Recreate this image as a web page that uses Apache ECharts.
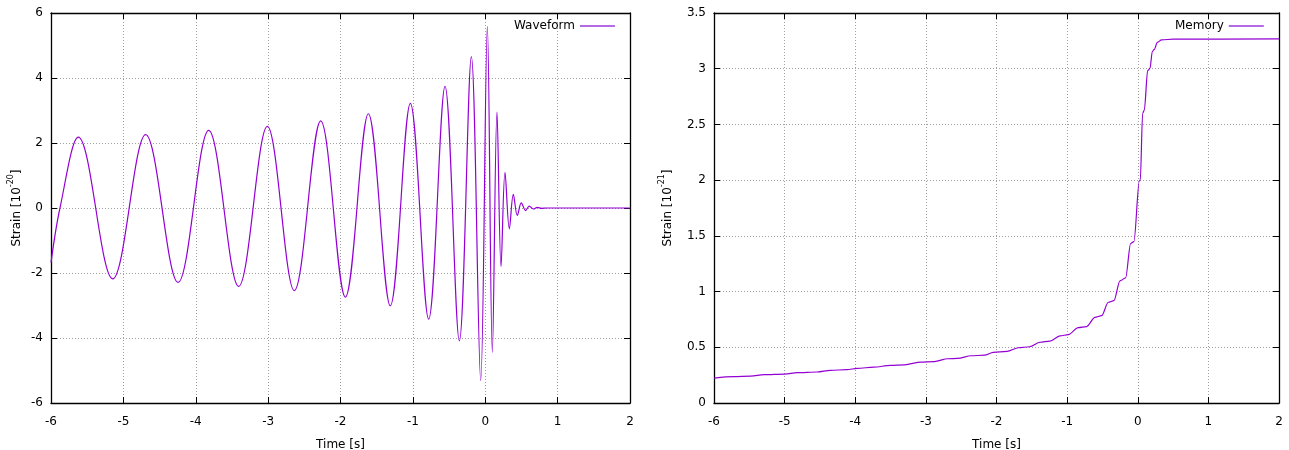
<!DOCTYPE html>
<html>
<head>
<meta charset="utf-8">
<script src="https://cdn.jsdelivr.net/npm/echarts@6/dist/echarts.min.js"></script>
<style>
  html, body { margin: 0; padding: 0; background: #fff; }
  #chart { width: 1289px; height: 450px; }
</style>
</head>
<body>
<div id="chart"></div>
<script>
// Gravitational-wave strain: start of the trace, then successive extrema
var waveTime = [
  -6.0, -5.876, -5.623, -5.148, -4.692, -4.245, -3.821, -3.407, -3.011, -2.638,
  -2.274, -1.933, -1.615, -1.312, -1.035, -0.782, -0.556, -0.358, -0.192, -0.063,
  0.029, 0.098, 0.162, 0.218, 0.273, 0.333, 0.388, 0.443, 0.498, 0.558,
  0.608, 0.664, 0.720, 0.780, 0.850, 2.0
];
var waveStrain = [
  -1.68, 0, 2.18, -2.18, 2.26, -2.29, 2.39, -2.41, 2.51, -2.54,
  2.68, -2.74, 2.90, -3.01, 3.22, -3.42, 3.74, -4.09, 4.66, -5.31,
  5.59, -4.44, 2.95, -1.80, 1.10, -0.64, 0.42, -0.23, 0.16, -0.08,
  0.06, -0.03, 0.02, -0.01, 0, 0
];

// Nonlinear memory: slowly stepping growth, jump at merger, then saturation
var memTime = [
  -6.0, -5.72, -5.48, -5.29, -5.0, -4.82, -4.54, -4.35, -4.12, -3.97,
  -3.74, -3.5, -3.30, -3.07, -2.88, -2.69, -2.55, -2.36, -2.17, -2.045,
  -1.85, -1.69, -1.53, -1.384, -1.243, -1.101, -0.983, -0.842, -0.724, -0.606,
  -0.511, -0.417, -0.337, -0.252, -0.172, -0.101, -0.054, 0.022, 0.036, 0.069,
  0.093, 0.14, 0.173, 0.206, 0.234, 0.277, 0.338, 0.503, 2.0
];
var memStrain = [
  0.224, 0.236, 0.242, 0.254, 0.260, 0.272, 0.278, 0.293, 0.299, 0.311,
  0.322, 0.338, 0.343, 0.367, 0.372, 0.397, 0.400, 0.424, 0.429, 0.455,
  0.463, 0.496, 0.505, 0.545, 0.555, 0.602, 0.614, 0.677, 0.686, 0.769,
  0.784, 0.904, 0.919, 1.096, 1.123, 1.431, 1.449, 1.994, 2.000, 2.599,
  2.629, 2.982, 3.003, 3.153, 3.174, 3.237, 3.258, 3.266, 3.267
];

var leftTicks = { min: -6, max: 6, interval: 2 };
var rightTicks = { min: 0, max: 3.5, interval: 0.5 };
var timeTicks = { min: -6, max: 2, interval: 1 };

var LINE_COLOR = '#9400d3';
var FONT = 'DejaVu Sans';

function pairs(xs, ys) {
  return xs.map(function (x, i) { return [x, ys[i]]; });
}

var gridLine = { show: true, lineStyle: { color: '#a0a0a0', type: [1, 2], width: 1 } };
var frameLine = { show: true, onZero: false, lineStyle: { color: '#000', width: 1.3 } };
var inTick = { show: true, inside: true, length: 6, lineStyle: { color: '#000', width: 1 } };
var tickLabel = { color: '#000', fontSize: 12, fontFamily: FONT };

function xAxes(gridIndex) {
  return [
    {
      type: 'value', gridIndex: gridIndex, position: 'bottom',
      min: timeTicks.min, max: timeTicks.max, interval: timeTicks.interval,
      name: 'Time [s]', nameLocation: 'middle', nameGap: 36,
      nameTextStyle: { color: '#000', fontSize: 12, fontFamily: FONT },
      axisLine: frameLine, axisTick: inTick,
      axisLabel: Object.assign({ margin: 13 }, tickLabel),
      splitLine: gridLine
    },
    {
      type: 'value', gridIndex: gridIndex, position: 'top',
      min: timeTicks.min, max: timeTicks.max, interval: timeTicks.interval,
      axisLine: frameLine, axisTick: inTick,
      axisLabel: { show: false }, splitLine: { show: false }
    }
  ];
}

function yAxes(gridIndex, ticks, exponent, gap) {
  return [
    {
      type: 'value', gridIndex: gridIndex, position: 'left',
      min: ticks.min, max: ticks.max, interval: ticks.interval,
      name: '{a|Strain [10}{s|' + exponent + '}{a|]}',
      nameLocation: 'middle', nameGap: gap, nameRotate: 90,
      nameTextStyle: {
        color: '#000', fontFamily: FONT,
        rich: {
          a: { fontSize: 12, fontFamily: FONT, color: '#000', lineHeight: 16, verticalAlign: 'bottom' },
          s: { fontSize: 8, fontFamily: FONT, color: '#000', lineHeight: 16, verticalAlign: 'top' }
        }
      },
      axisLine: frameLine, axisTick: inTick,
      axisLabel: Object.assign({ margin: 8 }, tickLabel),
      splitLine: gridLine
    },
    {
      type: 'value', gridIndex: gridIndex, position: 'right',
      min: ticks.min, max: ticks.max, interval: ticks.interval,
      axisLine: frameLine, axisTick: inTick,
      axisLabel: { show: false }, splitLine: { show: false }
    }
  ];
}

function legendFor(name, left) {
  return {
    data: [{ name: name, icon: 'rect' }],
    left: left, top: 20, align: 'right', padding: 0,
    itemWidth: 35, itemHeight: 2, selectedMode: false,
    itemStyle: { color: '#b56ae6' },
    textStyle: { color: '#000', fontSize: 12, fontFamily: FONT }
  };
}

var chart = echarts.init(document.getElementById('chart'), null, { renderer: 'canvas' });

chart.setOption({
  animation: false,
  backgroundColor: '#fff',
  textStyle: { fontFamily: FONT },
  grid: [
    { left: 51, top: 13, width: 579, height: 390, outerBoundsMode: 'none', containLabel: false },
    { left: 714, top: 13, width: 565, height: 390, outerBoundsMode: 'none', containLabel: false }
  ],
  legend: [legendFor('Waveform', 514), legendFor('Memory', 1175)],
  xAxis: xAxes(0).concat(xAxes(1)),
  yAxis: yAxes(0, leftTicks, '-20', 28).concat(yAxes(1, rightTicks, '-21', 40)),
  series: [
    {
      name: 'Waveform', type: 'line', xAxisIndex: 0, yAxisIndex: 0,
      data: pairs(waveTime, waveStrain),
      symbol: 'none', smooth: 0.36,
      lineStyle: { color: LINE_COLOR, width: 1.2 },
      itemStyle: { color: LINE_COLOR }
    },
    {
      name: 'Memory', type: 'line', xAxisIndex: 2, yAxisIndex: 2,
      data: pairs(memTime, memStrain),
      symbol: 'none', smooth: 0.3, smoothMonotone: 'x',
      lineStyle: { color: LINE_COLOR, width: 1.2 },
      itemStyle: { color: LINE_COLOR }
    }
  ]
});
</script>
</body>
</html>
